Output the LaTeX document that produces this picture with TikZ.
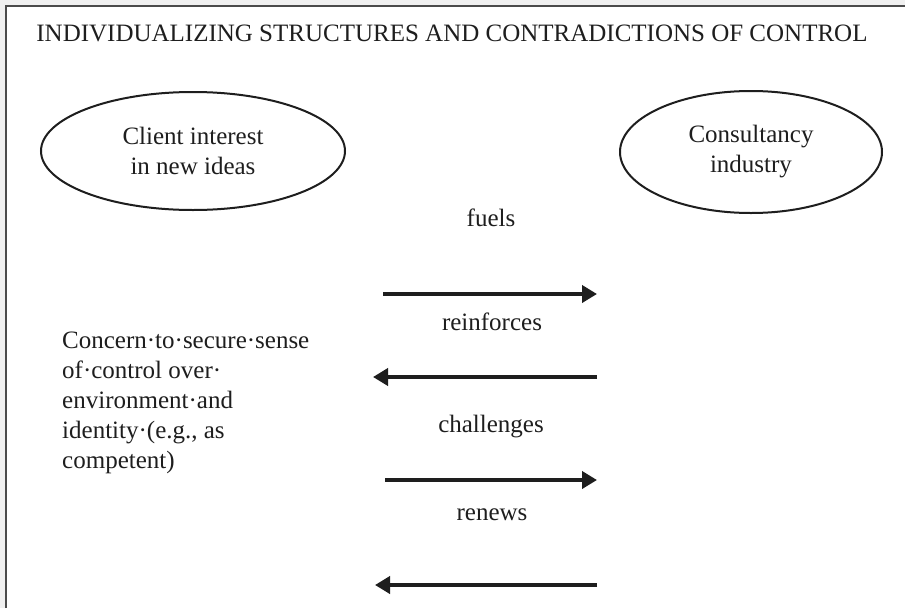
\documentclass[tikz,border=0pt]{standalone}
\usepackage{fontspec}
\setmainfont{Liberation Serif}
\usetikzlibrary{arrows.meta,shapes.geometric}
\definecolor{ink}{HTML}{1E1E1E}
\begin{document}
\begin{tikzpicture}[x=1pt,y=-1pt,
  txt/.style={font=\fontsize{25}{30}\selectfont, text=ink, inner sep=0pt},
  lbl/.style={txt, anchor=base},
  oval/.style={txt, draw=ink, ellipse, line width=2pt, align=center},
  arr/.style={draw=ink, line width=4pt, -{Triangle[length=15pt,width=17pt]}}]
\useasboundingbox (0,0) rectangle (905,608);
\fill[gray!12] (0,0) rectangle (905,608);
\fill[white] (6,6) rectangle (905,608);
\draw[ink!80, line width=1.5pt] (6,608) -- (6,6) -- (905,6);
\node[lbl] (title) at (452,41) {INDIVIDUALIZING STRUCTURES AND CONTRADICTIONS OF CONTROL};
\node[oval, minimum width=304pt, minimum height=118pt] (client) at (193,151) {Client interest\\in new ideas};
\node[oval, minimum width=262pt, minimum height=122pt] (consult) at (751,152) {Consultancy\\industry};
\node[txt, anchor=base west, align=left] (concern) at (62,468)
  {Concern·to·secure·sense\\of·control over·\\environment·and\\identity·(e.g., as\\competent)};
\node[lbl] (fuels) at (491,226) {fuels};
\node[lbl] (reinf) at (492,330) {reinforces};
\node[lbl] (chall) at (491,432) {challenges};
\node[lbl] (renews) at (492,520) {renews};
\coordinate (a1s) at (383,294); \coordinate (a1e) at (597,294);
\coordinate (a2s) at (597,377); \coordinate (a2e) at (373,377);
\coordinate (a3s) at (385,480); \coordinate (a3e) at (597,480);
\coordinate (a4s) at (597,585); \coordinate (a4e) at (375,585);
\draw[arr] (a1s) -- (a1e);
\draw[arr] (a2s) -- (a2e);
\draw[arr] (a3s) -- (a3e);
\draw[arr] (a4s) -- (a4e);
\end{tikzpicture}
\end{document}
